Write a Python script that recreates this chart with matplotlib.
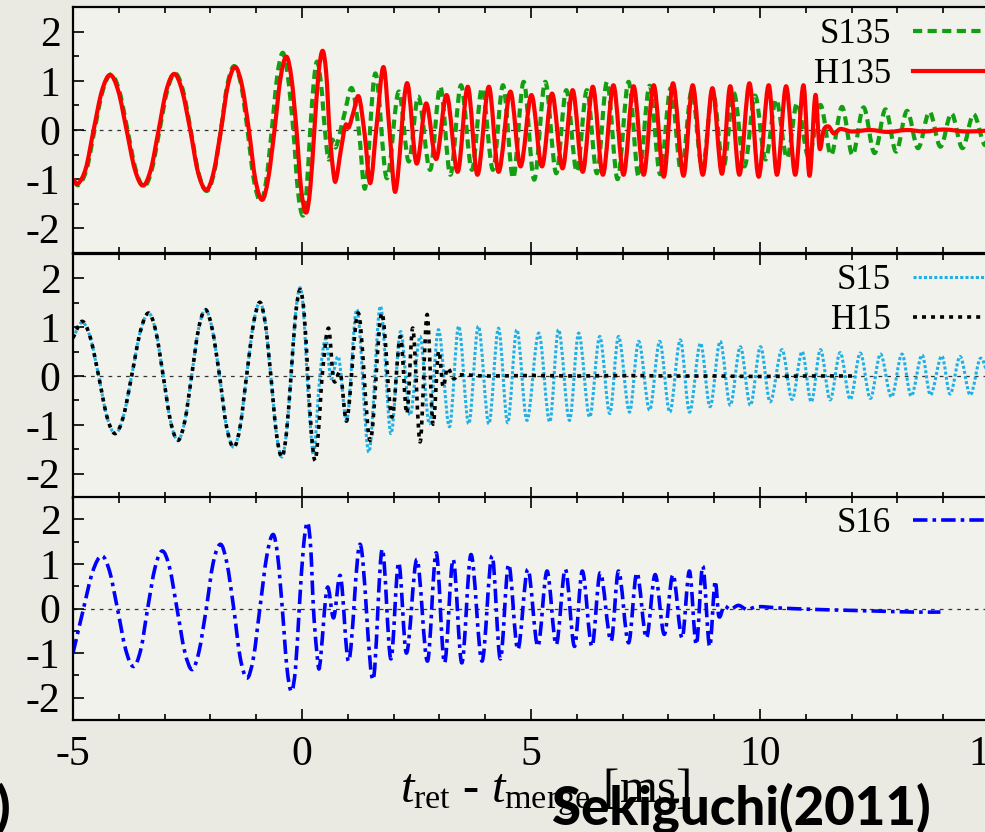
import numpy as np
import matplotlib.pyplot as plt
from matplotlib.lines import Line2D
from matplotlib.patches import PathPatch
from matplotlib.path import Path
from matplotlib.ticker import MultipleLocator

# --- waveform readings (t_ret - t_merge [ms], amplitude) ---
s135_t = [-5.00, -4.88, -4.70, -4.53, -4.35, -4.17, -3.99, -3.81, -3.63, -3.45,
          -3.28, -3.11, -2.94, -2.77, -2.60, -2.43, -2.26, -2.08, -1.92, -1.77,
          -1.63, -1.48, -1.33, -1.19, -1.05, -0.90, -0.78, -0.66, -0.54, -0.42,
          -0.31, -0.19, -0.09, 0.02, 0.10, 0.18, 0.26, 0.33, 0.42, 0.50,
          0.58, 0.66, 0.74, 0.92, 1.09, 1.24, 1.38, 1.60, 1.85, 2.11,
          2.33, 2.54, 2.80, 3.02, 3.24, 3.47, 3.71, 3.93, 4.17, 4.39,
          4.61, 4.84, 5.07, 5.31, 5.55, 5.77, 6.00, 6.22, 6.44, 6.66,
          6.89, 7.13, 7.35, 7.59, 7.82, 8.05, 8.28, 8.51, 8.74, 8.97,
          9.20, 9.43, 9.66, 9.89, 10.12, 10.35, 10.59, 10.81, 11.06, 11.32,
          11.55, 11.79, 12.02, 12.26, 12.50, 12.74, 12.97, 13.21, 13.45, 13.70,
          13.94, 14.18, 14.42, 14.66, 14.90, 15.00]
s135_h = [-1.00, -1.12, -0.79, 0.00, 0.80, 1.13, 0.80, 0.00, -0.81, -1.15,
          -0.81, 0.00, 0.81, 1.15, 0.81, 0.00, -0.87, -1.24, -0.87, 0.00,
          0.92, 1.30, 0.92, 0.00, -1.02, -1.45, -1.02, 0.00, 1.10, 1.57,
          1.10, 0.00, -1.23, -1.74, -1.23, 0.00, 1.00, 1.39, 0.90, 0.00,
          -0.60, -0.20, -0.35, 0.30, 0.85, 0.00, -1.18, 1.15, -0.98, 0.78,
          -0.64, 0.68, -0.81, 0.88, -0.91, 0.91, -0.81, 0.85, -0.81, 0.91,
          -0.98, 0.98, -1.01, 0.98, -0.88, 0.81, -0.85, 0.81, -0.88, 0.98,
          -1.00, 0.98, -0.95, 0.90, -0.90, 0.85, -0.85, 0.80, -0.80, 0.78,
          -0.76, 0.75, -0.74, 0.70, -0.60, 0.62, -0.57, 0.55, -0.55, 0.51,
          -0.51, 0.47, -0.51, 0.46, -0.47, 0.42, -0.44, 0.39, -0.37, 0.37,
          -0.34, 0.34, -0.37, 0.32, -0.30, -0.10]

h135_t = [-5.00, -4.90, -4.72, -4.55, -4.37, -4.19, -4.01, -3.83, -3.65, -3.47,
          -3.30, -3.13, -2.96, -2.79, -2.62, -2.44, -2.27, -2.09, -1.93, -1.77,
          -1.62, -1.46, -1.31, -1.16, -1.02, -0.87, -0.74, -0.60, -0.47, -0.34,
          -0.23, -0.12, -0.02, 0.09, 0.18, 0.27, 0.36, 0.45, 0.53, 0.60,
          0.67, 0.73, 0.85, 0.95, 1.02, 1.12, 1.24, 1.37, 1.49, 1.63,
          1.78, 1.91, 2.04, 2.29, 2.50, 2.71, 2.93, 3.16, 3.40, 3.62,
          3.83, 4.08, 4.29, 4.55, 4.77, 5.01, 5.24, 5.46, 5.69, 5.91,
          6.13, 6.35, 6.57, 6.80, 7.02, 7.24, 7.46, 7.68, 7.90, 8.10,
          8.33, 8.53, 8.75, 8.96, 9.17, 9.35, 9.55, 9.77, 9.97, 10.19,
          10.37, 10.57, 10.77, 10.95, 11.08, 11.21, 11.30, 11.39, 11.50, 11.61,
          11.75, 12.00, 12.40, 12.80, 13.20, 13.60, 14.00, 14.50, 15.00]
h135_h = [-1.00, -1.10, -0.78, 0.00, 0.79, 1.12, 0.79, 0.00, -0.80, -1.13,
          -0.80, 0.00, 0.81, 1.14, 0.81, 0.00, -0.86, -1.22, -0.86, 0.00,
          0.90, 1.28, 0.90, 0.00, -1.00, -1.42, -1.00, 0.00, 1.05, 1.49,
          1.05, 0.00, -1.19, -1.68, -1.19, 0.00, 1.14, 1.61, 1.14, 0.00,
          -0.74, -1.05, -0.40, 0.10, 0.05, 0.35, 0.68, -0.10, -1.08, 0.10,
          1.28, 0.00, -1.25, 0.95, -0.68, 0.54, -0.59, 0.71, -0.85, 0.88,
          -0.91, 0.88, -0.85, 0.78, -0.74, 0.71, -0.74, 0.74, -0.78, 0.81,
          -0.85, 0.88, -0.91, 0.91, -0.91, 0.89, -0.91, 0.91, -0.95, 0.95,
          -0.93, 0.91, -0.91, 0.85, -0.89, 0.89, -0.91, 0.95, -0.95, 0.91,
          -0.91, 0.89, -0.91, 0.91, -0.93, 0.71, -0.37, 0.00, 0.07, -0.07,
          0.02, -0.03, 0.00, -0.04, 0.00, -0.03, 0.01, -0.03, -0.01]

s15_t = [-5.00, -4.80, -4.62, -4.44, -4.26, -4.08, -3.90, -3.72, -3.53, -3.35,
         -3.19, -3.03, -2.87, -2.71, -2.56, -2.41, -2.26, -2.11, -1.96, -1.80,
         -1.65, -1.49, -1.35, -1.21, -1.06, -0.92, -0.80, -0.68, -0.56, -0.44,
         -0.34, -0.24, -0.14, -0.04, 0.04, 0.11, 0.19, 0.26, 0.39, 0.52,
         0.63, 0.80, 0.98, 1.20, 1.46, 1.71, 1.94, 2.15, 2.36, 2.58,
         2.78, 2.98, 3.22, 3.42, 3.64, 3.85, 4.08, 4.29, 4.49, 4.69,
         4.91, 5.17, 5.41, 5.60, 5.84, 6.04, 6.28, 6.50, 6.72, 6.91,
         7.15, 7.35, 7.59, 7.81, 8.03, 8.26, 8.46, 8.70, 8.91, 9.13,
         9.35, 9.57, 9.79, 10.01, 10.22, 10.48, 10.70, 10.92, 11.12, 11.32,
         11.53, 11.75, 11.97, 12.19, 12.41, 12.63, 12.87, 13.10, 13.30, 13.54,
         13.72, 13.97, 14.15, 14.37, 14.59, 14.81, 15.00]
s15_h = [0.78, 1.10, 0.78, 0.00, -0.83, -1.18, -0.83, 0.00, 0.91, 1.29,
         0.91, 0.00, -0.93, -1.32, -0.93, 0.00, 0.96, 1.36, 0.96, 0.00,
         -1.03, -1.46, -1.03, 0.00, 1.07, 1.51, 1.07, 0.00, -1.17, -1.66,
         -1.17, 0.00, 1.28, 1.81, 1.25, 0.00, -1.12, -1.59, 0.00, 0.76,
         -0.05, 0.38, -0.91, 1.36, -1.56, 1.43, -1.18, 0.91, -0.80, 0.81,
         -0.98, 0.95, -1.04, 1.02, -0.98, 1.02, -0.98, 0.98, -0.96, 0.95,
         -0.91, 0.88, -0.94, 0.95, -0.91, 0.88, -0.84, 0.81, -0.77, 0.81,
         -0.74, 0.71, -0.70, 0.71, -0.74, 0.74, -0.74, 0.67, -0.63, 0.71,
         -0.60, 0.60, -0.60, 0.60, -0.53, 0.54, -0.48, 0.50, -0.53, 0.54,
         -0.49, 0.48, -0.48, 0.47, -0.46, 0.45, -0.43, 0.45, -0.41, 0.43,
         -0.39, 0.41, -0.37, 0.40, -0.39, 0.36, -0.05]

h15_t = [-5.00, -4.80, -4.62, -4.44, -4.26, -4.08, -3.90, -3.72, -3.53, -3.35,
         -3.19, -3.03, -2.87, -2.71, -2.56, -2.41, -2.26, -2.11, -1.96, -1.80,
         -1.65, -1.49, -1.35, -1.21, -1.06, -0.92, -0.80, -0.68, -0.56, -0.44,
         -0.34, -0.24, -0.14, -0.04, 0.05, 0.13, 0.21, 0.29, 0.37, 0.44,
         0.58, 0.69, 0.84, 0.98, 1.23, 1.49, 1.74, 1.96, 2.15, 2.29,
         2.42, 2.58, 2.73, 2.86, 2.98, 3.08, 3.17, 3.31, 3.42, 4.00,
         5.00, 6.00, 7.00, 8.00, 9.00, 10.00, 11.00, 12.10]
h15_h = [0.78, 1.12, 0.78, 0.00, -0.83, -1.18, -0.83, 0.00, 0.91, 1.29,
         0.91, 0.00, -0.93, -1.32, -0.93, 0.00, 0.96, 1.36, 0.96, 0.00,
         -1.03, -1.46, -1.03, 0.00, 1.07, 1.51, 1.07, 0.00, -1.17, -1.66,
         -1.17, 0.00, 1.25, 1.77, 1.25, 0.00, -1.22, -1.73, -1.00, 0.00,
         0.98, -0.08, 0.05, -0.91, 1.29, -1.32, 1.29, -0.84, 0.81, -0.77,
         0.98, -1.35, 1.26, -0.98, 0.50, -0.22, 0.16, -0.05, 0.02, 0.00,
         0.01, 0.00, 0.01, 0.00, 0.00, -0.01, 0.00, 0.00]

s16_t = [-5.00, -4.77, -4.57, -4.37, -4.20, -4.03, -3.85, -3.68, -3.52, -3.37,
         -3.21, -3.05, -2.89, -2.73, -2.56, -2.40, -2.25, -2.09, -1.94, -1.78,
         -1.64, -1.49, -1.35, -1.20, -1.06, -0.92, -0.77, -0.63, -0.53, -0.43,
         -0.33, -0.23, -0.14, -0.06, 0.03, 0.12, 0.19, 0.25, 0.32, 0.38,
         0.55, 0.69, 0.84, 1.02, 1.27, 1.55, 1.75, 1.94, 2.11, 2.28,
         2.51, 2.74, 2.93, 3.11, 3.30, 3.49, 3.69, 3.93, 4.15, 4.33,
         4.51, 4.71, 4.93, 5.15, 5.35, 5.55, 5.75, 5.95, 6.12, 6.33,
         6.51, 6.75, 6.91, 7.13, 7.31, 7.52, 7.71, 7.91, 8.10, 8.30,
         8.46, 8.61, 8.75, 8.90, 9.02, 9.10, 9.21, 9.35, 9.53, 9.71,
         9.93, 10.44, 11.17, 11.90, 12.63, 13.36, 13.94]
s16_h = [-1.00, 0.00, 0.83, 1.18, 0.83, 0.00, -0.92, -1.30, -0.92, 0.00,
         0.91, 1.29, 0.91, 0.00, -0.97, -1.37, -0.97, 0.00, 1.02, 1.44,
         1.02, 0.00, -1.10, -1.56, -1.10, 0.00, 1.17, 1.66, 1.17, 0.00,
         -1.32, -1.86, -1.32, 0.00, 1.36, 1.93, 1.36, 0.00, -0.94, -1.33,
         0.46, -0.21, 0.73, -1.18, 1.44, -1.60, 1.33, -1.13, 1.03, -1.00,
         1.10, -1.18, 1.25, -1.22, 1.10, -1.22, 1.21, -1.18, 1.18, -1.13,
         0.99, -0.92, 0.88, -0.85, 0.84, -0.81, 0.88, -0.85, 0.84, -0.85,
         0.80, -0.73, 0.84, -0.77, 0.80, -0.66, 0.76, -0.58, 0.76, -0.66,
         0.84, -0.81, 0.95, -0.85, 0.61, -0.17, 0.05, -0.02, 0.07, -0.02,
         0.04, 0.01, -0.02, -0.04, -0.06, -0.08, -0.08]

x_range = (-5, 15)
y_range = (-2.5, 2.5)
x_ticks = [-5, 0, 5, 10, 15]
y_ticks = [-2, -1, 0, 1, 2]


def smooth_path(t, h):
    # cubic Hermite curve through the read points, drawn as Bezier segments
    t = np.asarray(t, float)
    h = np.asarray(h, float)
    m = np.empty_like(h)
    m[1:-1] = (h[2:] - h[:-2]) / (t[2:] - t[:-2])
    m[0] = (h[1] - h[0]) / (t[1] - t[0])
    m[-1] = (h[-1] - h[-2]) / (t[-1] - t[-2])
    verts = [(t[0], h[0])]
    codes = [Path.MOVETO]
    for i in range(len(t) - 1):
        d = (t[i + 1] - t[i]) / 3
        verts += [(t[i] + d, h[i] + m[i] * d),
                  (t[i + 1] - d, h[i + 1] - m[i + 1] * d),
                  (t[i + 1], h[i + 1])]
        codes += [Path.CURVE4] * 3
    return Path(verts, codes)


plt.rcParams["font.family"] = ["Liberation Serif", "DejaVu Serif"]
plt.rcParams["mathtext.fontset"] = "custom"
plt.rcParams["mathtext.rm"] = "Liberation Serif"
plt.rcParams["mathtext.it"] = "Liberation Serif:italic"
plt.rcParams["axes.unicode_minus"] = False

fig = plt.figure(figsize=(9.85, 8.32), dpi=100, facecolor="#EAEAE2")

# panel boxes in pixels (top, bottom); the right edge runs just past the image
boxes = [(7, 253), (254, 498), (497, 720)]
legend_off = [0.030, 0.027, 0.029]
panels = [
    [("S135", s135_t, s135_h, dict(color="#12A012", lw=3.0, ls=(0, (2.2, 1.3)))),
     ("H135", h135_t, h135_h, dict(color="#FF0000", lw=3.0, ls="-"))],
    [("S15", s15_t, s15_h, dict(color="#1EB0E6", lw=2.2, ls=(0, (1.0, 0.7)))),
     ("H15", h15_t, h15_h, dict(color="black", lw=2.6, ls=(0, (1.1, 1.4))))],
    [("S16", s16_t, s16_h, dict(color="#0000FF", lw=2.6, ls=(0, (4.0, 1.4, 1.0, 1.4))))],
]

axes = []
for (top, bot), series, off in zip(boxes, panels, legend_off):
    ax = fig.add_axes([73 / 985, 1 - bot / 832, 916 / 985, (bot - top) / 832])
    ax.set_facecolor("#F2F2EC")
    ax.axhline(0, color="#333333", lw=0.9, dashes=(3, 4), zorder=1)
    handles = []
    for name, t, h, style in series:
        ax.add_patch(PathPatch(smooth_path(t, h), fill=False, edgecolor=style["color"],
                               lw=style["lw"], ls=style["ls"], capstyle="butt",
                               joinstyle="round", zorder=2))
        handles.append(Line2D([], [], color=style["color"], lw=style["lw"],
                              ls=style["ls"], label=name))
    ax.set_xlim(*x_range)
    ax.set_ylim(*y_range)
    ax.set_xticks(x_ticks)
    ax.set_yticks(y_ticks)
    ax.xaxis.set_minor_locator(MultipleLocator(1))
    ax.yaxis.set_minor_locator(MultipleLocator(0.5))
    ax.tick_params(which="both", direction="in", top=True, bottom=True,
                   left=True, right=False, width=1.2, labelsize=30)
    ax.tick_params(which="major", length=8)
    ax.tick_params(which="minor", length=4.5)
    ax.tick_params(axis="y", pad=9)
    ax.tick_params(axis="x", pad=11)
    for sp in ax.spines.values():
        sp.set_linewidth(1.6)
    ax.legend(handles=handles, loc="upper right", bbox_to_anchor=(1.0, 1.0 - off),
              borderaxespad=0, frameon=False, markerfirst=False, handlelength=2.1,
              handletextpad=0.62, borderpad=0.1, labelspacing=0.2, fontsize=25)
    axes.append(ax)

for ax in axes[:-1]:
    ax.tick_params(labelbottom=False)

axes[-1].set_xlabel(r"$t_{\rm ret}$ - $t_{\rm merge}$ [ms]", fontsize=35, va="baseline")
axes[-1].xaxis.set_label_coords(0.515, -82 / 223)

fig.text(552 / 985, 1 - 824 / 832, "Sekiguchi(2011)", fontsize=38, fontweight="black",
         family=["Lato", "DejaVu Sans"], ha="left", va="baseline")
fig.text(10 / 985, 1 - 824 / 832, ")", fontsize=38, fontweight="black",
         family=["Lato", "DejaVu Sans"], ha="right", va="baseline")

fig.savefig("out.png", dpi=100, facecolor=fig.get_facecolor())
